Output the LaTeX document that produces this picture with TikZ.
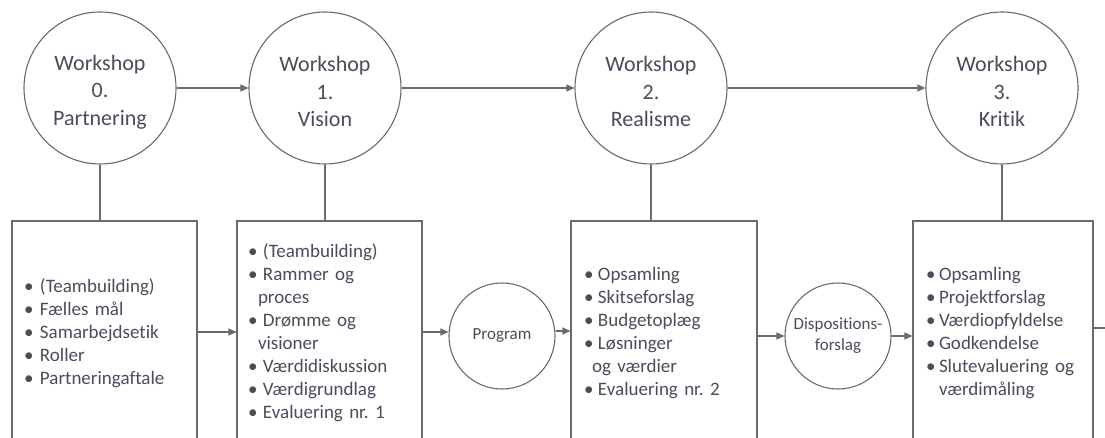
\documentclass[tikz,border=0pt]{standalone}
\usepackage{fontspec}
\setmainfont{Carlito}[Ligatures=NoCommon]
\frenchspacing
\usetikzlibrary{positioning,arrows.meta}
\definecolor{linegray}{RGB}{105,105,112}
\definecolor{textgray}{RGB}{72,77,92}
\newcommand{\bul}[1][15pt]{\makebox[#1][l]{•}}
\tikzstyle{workshop}=[circle,draw=linegray,line width=1.1pt,minimum size=152pt,inner sep=0pt,align=center,text=textgray,font=\fontsize{22}{27.5}\selectfont]
\tikzstyle{result}=[circle,draw=linegray,line width=1.1pt,minimum size=106pt,inner sep=0pt,align=center,text=textgray,font=\fontsize{17}{21}\selectfont]
\tikzstyle{box}=[rectangle,draw=linegray,line width=1.1pt,minimum height=224pt,inner xsep=12pt,align=left,text=textgray,font=\fontsize{19}{23}\selectfont]

\begin{document}
\begin{tikzpicture}[x=1pt, y=-1pt, >={Triangle[length=8pt,width=7pt]}, line width=1.1pt, draw=linegray]
  \useasboundingbox (0, 0) rectangle (1105, 438);
  \clip (0, 0) rectangle (1105, 438);

  \node [workshop] at (100, 88) (w0) {\rule{0pt}{23pt}Workshop\\0.\\Partnering};
  \node [workshop] at (325, 88) (w1) {\rule{0pt}{23pt}Workshop\\1.\\Vision};
  \node [workshop] at (651, 88) (w2) {\rule{0pt}{23pt}Workshop\\2.\\Realisme};
  \node [workshop] at (1002, 88) (w3) {\rule{0pt}{23pt}Workshop\\3.\\Kritik};

  \node [box, text width=161pt] at (104.5, 333) (b0) {%
    \bul[16pt](Teambuilding)\\
    \bul[16pt]Fælles mål\\
    \bul[16pt]Samarbejdsetik\\
    \bul[16pt]Roller\\
    \bul[16pt]Partneringaftale};
  \node [box, inner xsep=11pt, text width=163pt] at (329.5, 333) (b1) {%
    \bul(Teambuilding)\\
    \bul Rammer~og\\
    \hspace*{10pt}proces\\
    \bul Drømme~og\\
    \hspace*{10pt}visioner\\
    \bul Værdidiskussion\\
    \bul Værdigrundlag\\
    \bul Evaluering~nr.~1};
  \node [box, inner xsep=13pt, text width=160pt] at (664, 333) (b2) {%
    \bul[14pt]Opsamling\\
    \bul[14pt]Skitseforslag\\
    \bul[14pt]Budgetoplæg\\
    \bul[14pt]Løsninger\\
    \hspace*{8pt}og~værdier\\
    \bul[14pt]Evaluering~nr.~2};
  \node [box, inner xsep=13pt, text width=154pt] at (1003, 333) (b3) {%
    \bul[13pt]Opsamling\\
    \bul[13pt]Projektforslag\\
    \bul[13pt]Værdiopfyldelse\\
    \bul[13pt]Godkendelse\\
    \bul[13pt]\mbox{Slutevaluering og}\\
    \hspace*{13pt}værdimåling};

  \node [result] at (502, 336) (prog) {Program};
  \node [result] at (838, 336) (disp) {Dispositions-\\forslag};
  \coordinate (edge) at (1110, 328);

  \draw [->] (w0) -- (w1);
  \draw [->] (w1) -- (w2);
  \draw [->] (w2) -- (w3);
  \draw (w0) -- (w0 |- b0.north);
  \draw (w1) -- (w1 |- b1.north);
  \draw (w2) -- (w2 |- b2.north);
  \draw (w3) -- (w3 |- b3.north);
  \draw [->] (b0.east |- 0, 332) -- (b1.west |- 0, 332);
  \draw [->] (b1.east |- 0, 332) -- (prog.west |- 0, 332);
  \draw [->] (prog.east |- 0, 331) -- (b2.west |- 0, 331);
  \draw [->] (b2.east |- disp) -- (disp);
  \draw [->] (disp) -- (b3.west |- disp);
  \draw (b3.east |- edge) -- (edge);
\end{tikzpicture}
\end{document}
